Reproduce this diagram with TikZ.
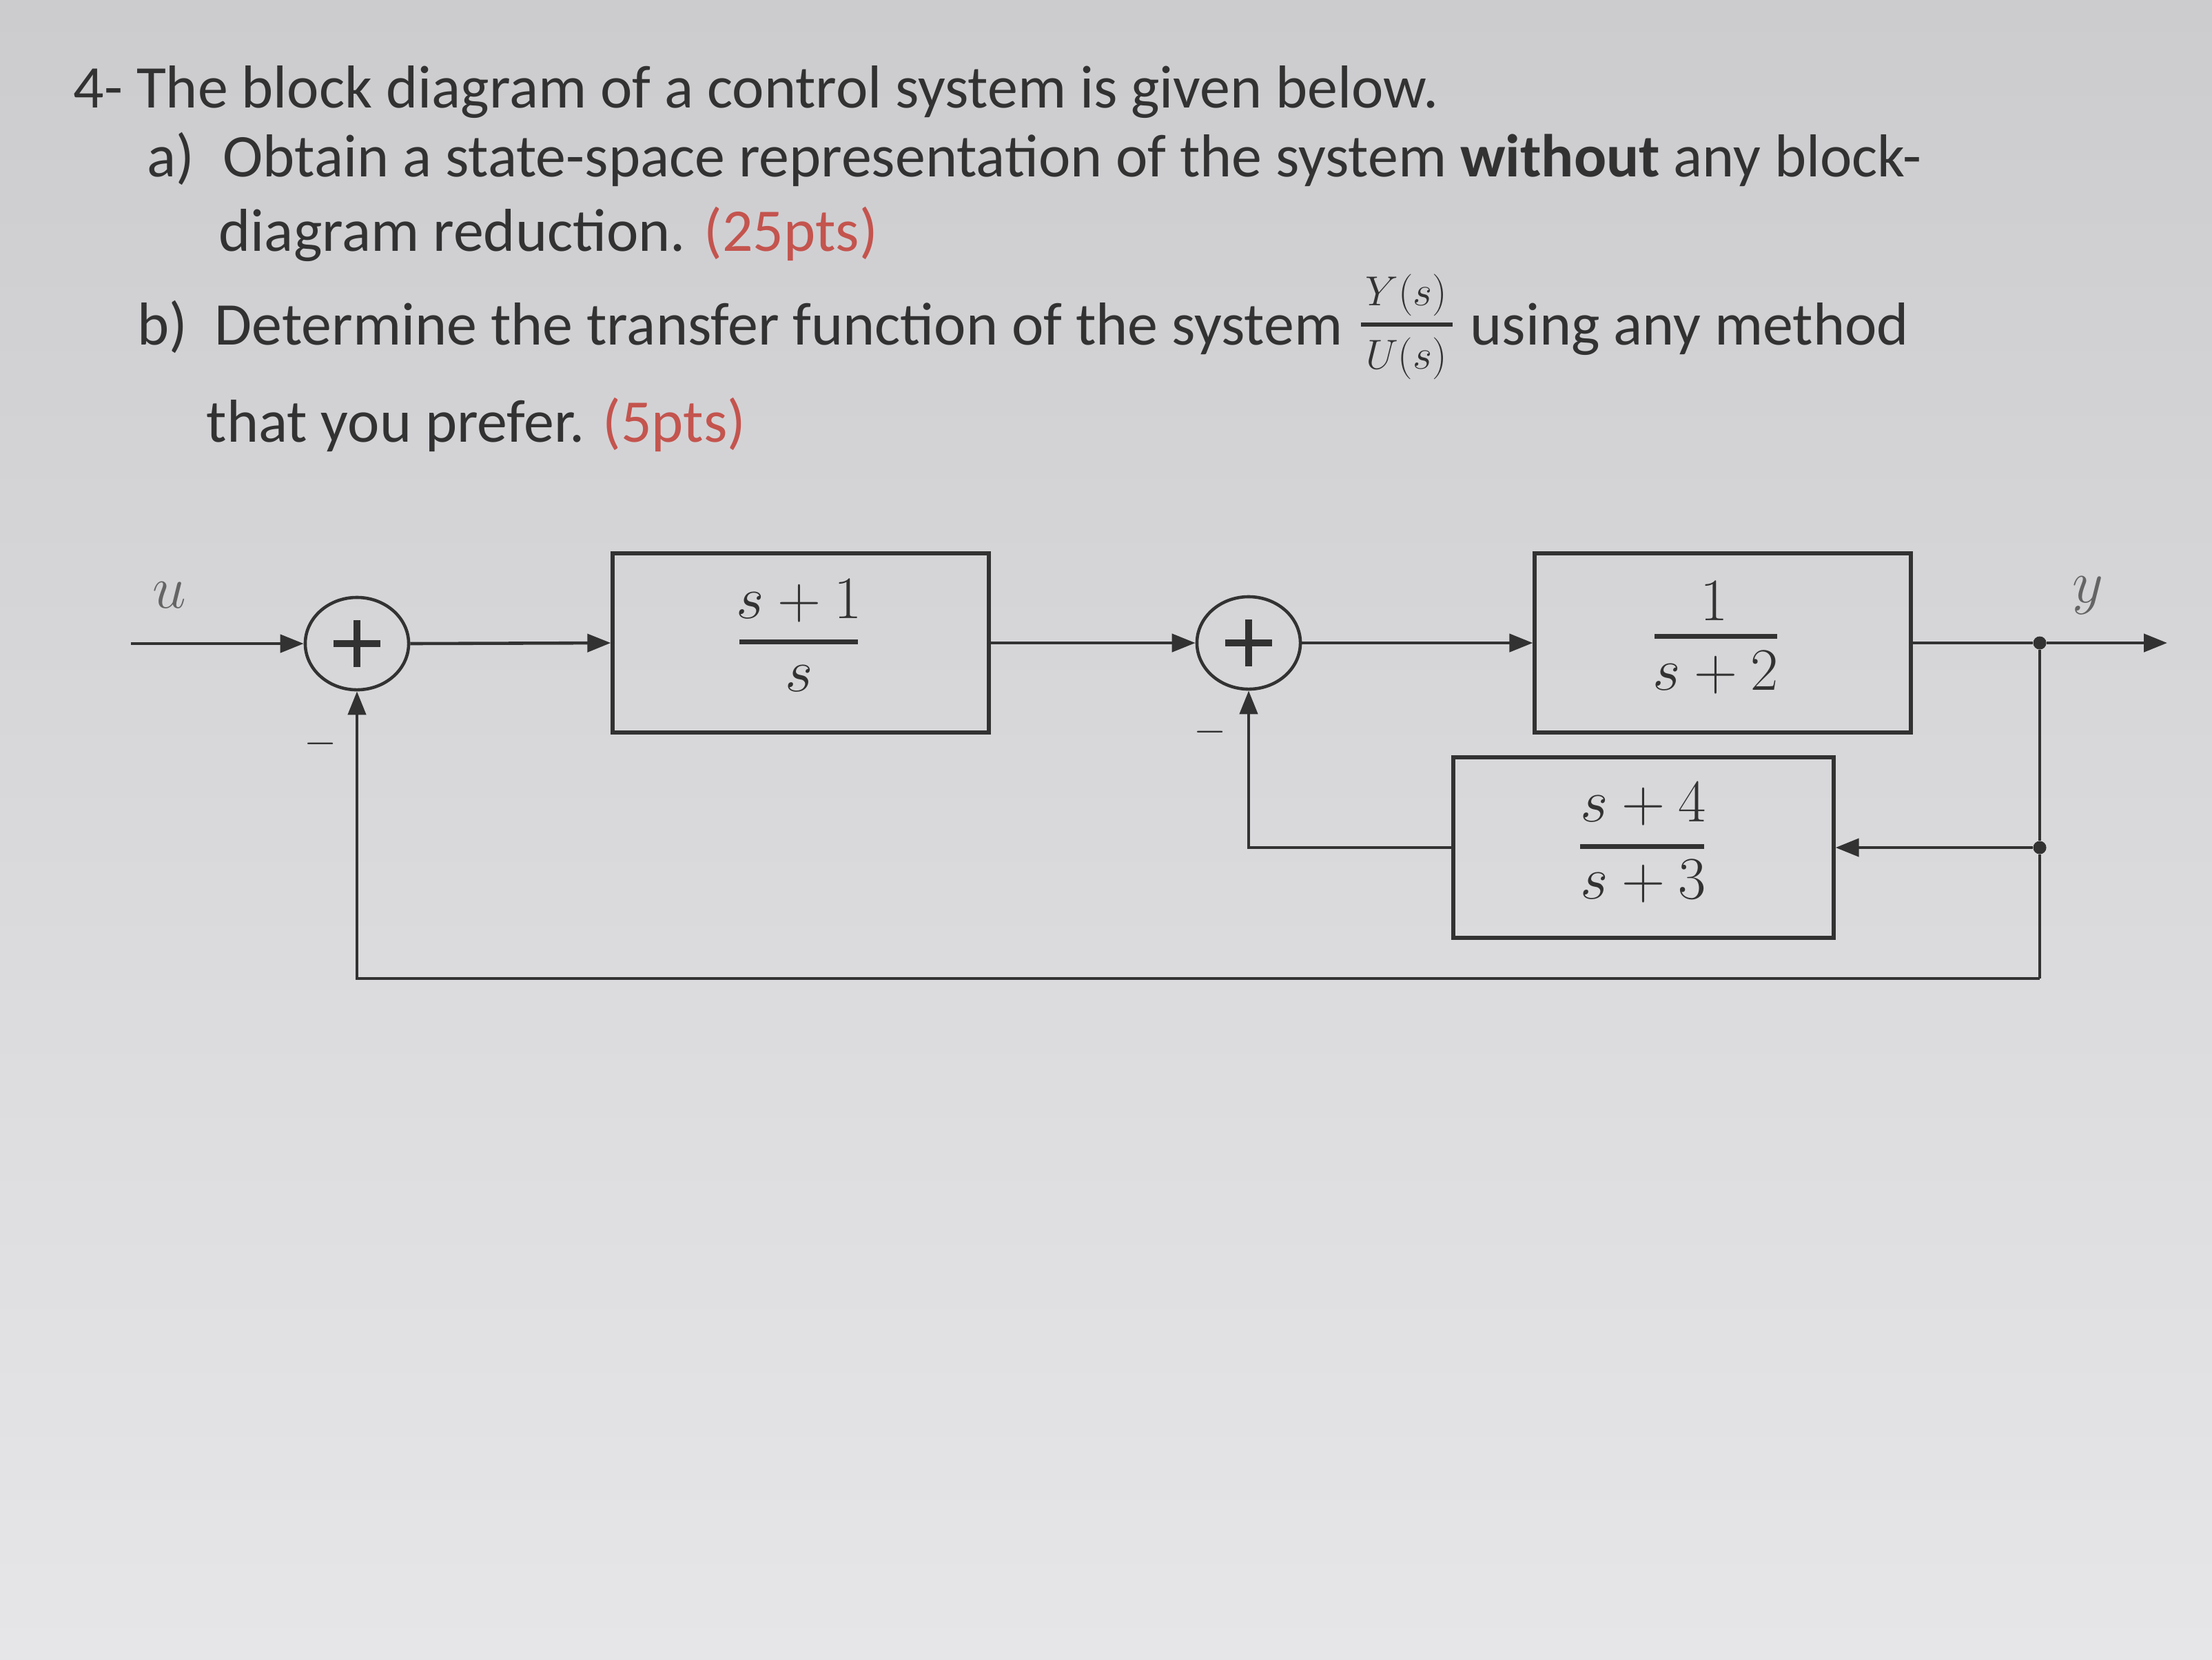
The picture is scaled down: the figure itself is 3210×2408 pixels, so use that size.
\documentclass[tikz,border=0pt]{standalone}
\usepackage{fontspec}
\setmainfont{Carlito}
\usetikzlibrary{arrows.meta,shapes.geometric}
\definecolor{ink}{RGB}{50,50,50}
\definecolor{lbl}{RGB}{100,100,100}
\definecolor{pts}{RGB}{196,84,78}
\definecolor{bgtop}{RGB}{204,204,207}
\definecolor{bgbot}{RGB}{230,230,232}
\begin{document}
\begin{tikzpicture}[x=0.01cm,y=-0.01cm,
  txt/.style={anchor=base west,text=ink,inner sep=0pt,font=\fontsize{25}{30}\selectfont},
  frc/.style={text=ink,inner sep=0pt,font=\fontsize{23.5}{28}\selectfont},
  small/.style={text=ink,inner sep=0pt,font=\fontsize{17}{20}\selectfont},
  blockbox/.style={draw=ink,line width=1.7pt,minimum width=5.45cm,minimum height=2.6cm,inner sep=0pt},
  sumnode/.style={ellipse,draw=ink,line width=1.3pt,minimum width=1.5cm,minimum height=1.34cm,inner sep=0pt},
  dotnode/.style={circle,fill=ink,minimum size=0.19cm,inner sep=0pt},
  wire/.style={draw=ink,line width=1.3pt},
  arr/.style={wire,-{Triangle[length=0.34cm,width=0.26cm]}},
  bar/.style={draw=ink,line width=2pt},
  plus/.style={draw=ink,line width=2.6pt}
]
\shade[top color=bgtop,bottom color=bgbot] (0,0) rectangle (3210,2408);
\useasboundingbox (0,0) rectangle (3210,2408);

% question text
\node[txt] (t1) at (106,156) {4- The block diagram of a control system is given below.};
\node[txt] (ta) at (213,256) {a)};
\node[txt] (ta1) at (323,256) {Obtain a state-space representation of the system \textbf{without} any block-};
\node[txt] (ta2) at (317,364) {diagram reduction. \textcolor{pts}{(25pts)}};
\node[txt] (tb) at (199,500) {b)};
\node[txt] (tb1) at (311,500) {Determine the transfer function of the system};
\node[small] (fn) at (2041,428) {$Y(s)$};
\node[small] (fd) at (2041,520) {$U(s)$};
\draw[line width=1.6pt,draw=ink] (1975,471) -- (2108,471);
\node[txt] (tb2) at (2133,500) {using any method};
\node[txt] (tb3) at (299,641) {that you prefer. \textcolor{pts}{(5pts)}};

% diagram
\node[sumnode] (s1) at (518,934) {};
\node[sumnode] (s2) at (1812,933) {};
\draw[plus] ([xshift=-0.34cm]s1.center) -- ([xshift=0.34cm]s1.center);
\draw[plus] ([yshift=-0.34cm]s1.center) -- ([yshift=0.34cm]s1.center);
\draw[plus] ([xshift=-0.34cm]s2.center) -- ([xshift=0.34cm]s2.center);
\draw[plus] ([yshift=-0.34cm]s2.center) -- ([yshift=0.34cm]s2.center);

\node[blockbox] (b1) at (1162,933) {};
\node[blockbox] (b2) at (2500,933) {};
\node[blockbox,minimum width=5.51cm,minimum height=2.62cm] (b3) at (2385,1230) {};

\node[frc] (n1) at (1160,872) {$s+1$};
\node[frc] (d1) at (1160,985) {$s$};
\draw[bar] (1073,931) -- (1245,931);
\node[frc] (n2) at (2488,872) {$1$};
\node[frc] (d2) at (2490,976) {$s+2$};
\draw[bar] (2401,923) -- (2579,923);
\node[frc] (n3) at (2385,1167) {$s+4$};
\node[frc] (d3) at (2385,1279) {$s+3$};
\draw[bar] (2293,1228) -- (2473,1228);

\node[frc,text=lbl] (lu) at (246,864) {$u$};
\node[frc,text=lbl] (ly) at (3030,864) {$y$};
\node[small] (m1) at (465,1079) {$-$};
\node[small] (m2) at (1756,1062) {$-$};

\coordinate (uin) at (190,934);
\coordinate (yout) at (3145,933);
\node[dotnode] (j1) at (2960,933) {};
\node[dotnode] (j2) at (2960,1230) {};
\coordinate (c1) at (2960,1420);

\draw[arr] (uin) -- (s1.west);
\draw[arr] (s1.east) -- (b1.west);
\draw[arr] (b1.east) -- (s2.west);
\draw[arr] (s2.east) -- (b2.west);
\draw[wire] (b2.east) -- (j1);
\draw[arr] (j1) -- (yout);
\draw[wire] (j1) -- (j2);
\draw[arr] (j2) -- (b3.east);
\draw[arr] (b3.west) -| (s2.south);
\draw[wire] (j2) -- (c1);
\draw[arr] (c1) -| (s1.south);
\end{tikzpicture}
\end{document}
